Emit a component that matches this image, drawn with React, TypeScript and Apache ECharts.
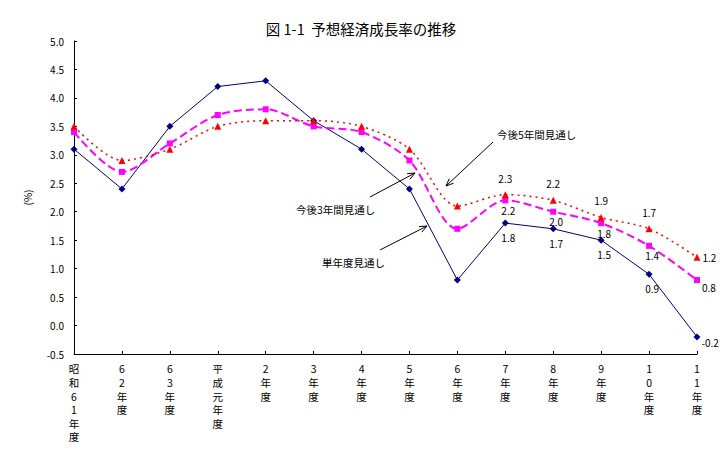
import React, { useEffect, useRef } from "react";
import * as echarts from "echarts";

const categories = [
  "昭\n和\n6\n1\n年\n度",
  "6\n2\n年\n度",
  "6\n3\n年\n度",
  "平\n成\n元\n年\n度",
  "2\n年\n度",
  "3\n年\n度",
  "4\n年\n度",
  "5\n年\n度",
  "6\n年\n度",
  "7\n年\n度",
  "8\n年\n度",
  "9\n年\n度",
  "1\n0\n年\n度",
  "1\n1\n年\n度",
];

const singleYear = [3.1, 2.4, 3.5, 4.2, 4.3, 3.6, 3.1, 2.4, 0.8, 1.8, 1.7, 1.5, 0.9, -0.2];
const threeYear = [3.4, 2.7, 3.2, 3.7, 3.8, 3.5, 3.4, 2.9, 1.7, 2.2, 2.0, 1.8, 1.4, 0.8];
const fiveYear = [3.5, 2.9, 3.1, 3.5, 3.6, 3.6, 3.5, 3.1, 2.1, 2.3, 2.2, 1.9, 1.7, 1.2];

const seriesNames = ["単年度見通し", "今後3年間見通し", "今後5年間見通し"];
const yTicks = { min: -0.5, max: 5.0, interval: 0.5 };
const LABEL_FROM = 9;

const JP = '"Noto Sans CJK JP", "Noto Sans", sans-serif';

function withLabels(values: number[], normalPos: any, lastPos: any) {
  const last = values.length - 1;
  return values.map((v, i) => {
    if (i < LABEL_FROM) return v;
    return {
      value: v,
      label: {
        show: true,
        formatter: (p: any) => Number(p.value).toFixed(1),
        fontSize: 10,
        fontFamily: JP,
        color: "#000",
        ...(i === last ? lastPos : normalPos),
      },
    };
  });
}

function arrow(x1: number, y1: number, x2: number, y2: number) {
  const ang = Math.atan2(y2 - y1, x2 - x1);
  const L = 8;
  const a = 0.4;
  const p1 = [x2 - L * Math.cos(ang - a), y2 - L * Math.sin(ang - a)];
  const p2 = [x2 - L * Math.cos(ang + a), y2 - L * Math.sin(ang + a)];
  return [
    { type: "line", shape: { x1, y1, x2, y2 }, style: { stroke: "#000", lineWidth: 1 } },
    {
      type: "polyline",
      shape: { points: [p1, [x2, y2], p2] },
      style: { stroke: "#000", fill: null, lineWidth: 1 },
    },
  ];
}

function note(text: string, x: number, y: number) {
  return {
    type: "text",
    x,
    y,
    style: {
      text,
      fontSize: 10.5,
      fontFamily: JP,
      fill: "#000",
      align: "left",
      verticalAlign: "middle",
    },
  };
}

export default function App() {
  const ref = useRef<HTMLDivElement>(null);

  useEffect(() => {
    document.body.style.margin = "0";
    if (!ref.current) return;
    const chart = echarts.init(ref.current, undefined, { renderer: "svg" });
    chart.setOption({
      animation: false,
      backgroundColor: "#fff",
      title: {
        text: "図 1-1  予想経済成長率の推移",
        left: "center",
        top: 16,
        textStyle: { fontSize: 14.5, fontWeight: "normal", fontFamily: JP, color: "#000" },
      },
      grid: { left: 74, right: 25, top: 41, bottom: 99 },
      xAxis: {
        type: "category",
        data: categories,
        boundaryGap: false,
        axisLine: { onZero: false, lineStyle: { color: "#000", width: 1 } },
        axisTick: { inside: true, length: 3, lineStyle: { color: "#000" } },
        axisLabel: {
          interval: 0,
          color: "#000",
          fontSize: 10.5,
          fontFamily: JP,
          lineHeight: 13.6,
          margin: 8,
        },
        splitLine: { show: false },
      },
      yAxis: {
        type: "value",
        min: yTicks.min,
        max: yTicks.max,
        interval: yTicks.interval,
        name: "(%)",
        nameLocation: "middle",
        nameRotate: 90,
        nameGap: 42,
        nameTextStyle: { fontSize: 10, fontFamily: JP, color: "#000" },
        axisLine: { show: true, lineStyle: { color: "#000", width: 1 } },
        axisTick: { show: true, inside: true, length: 3, lineStyle: { color: "#000" } },
        axisLabel: {
          color: "#000",
          fontSize: 10,
          fontFamily: JP,
          margin: 10,
          formatter: (v: number) => v.toFixed(1),
        },
        splitLine: { show: false },
      },
      series: [
        {
          name: seriesNames[0],
          type: "line",
          data: withLabels(
            singleYear,
            { position: "bottom", distance: 6, offset: [3, 0] },
            { position: "right", distance: 1, offset: [0, 6] }
          ),
          symbol: "diamond",
          symbolSize: 7,
          itemStyle: { color: "#000080" },
          lineStyle: { color: "#000080", width: 1 },
          z: 3,
        },
        {
          name: seriesNames[1],
          type: "line",
          data: withLabels(
            threeYear,
            { position: "bottom", distance: 2, offset: [3, 0] },
            { position: "right", distance: 2, offset: [0, 7] }
          ),
          symbol: "rect",
          symbolSize: 6,
          smooth: 0.3,
          itemStyle: { color: "#ff00ff" },
          lineStyle: { color: "#ff00ff", width: 2, type: [8, 4] },
          z: 4,
        },
        {
          name: seriesNames[2],
          type: "line",
          data: withLabels(
            fiveYear,
            { position: "top", distance: 8 },
            { position: "right", distance: 2 }
          ),
          symbol: "triangle",
          symbolSize: 7,
          smooth: 0.3,
          itemStyle: { color: "#ff0000" },
          lineStyle: { color: "#ff0000", width: 1.5, type: [2, 4] },
          z: 5,
        },
      ],
      graphic: [
        note(seriesNames[2], 497, 134),
        ...arrow(493, 142, 446, 186),
        note(seriesNames[1], 296, 209),
        ...arrow(370, 197, 415, 173),
        note(seriesNames[0], 322, 262),
        ...arrow(380, 250, 427, 226),
      ],
    });
    return () => chart.dispose();
  }, []);

  return <div ref={ref} style={{ width: 722, height: 453 }} />;
}
